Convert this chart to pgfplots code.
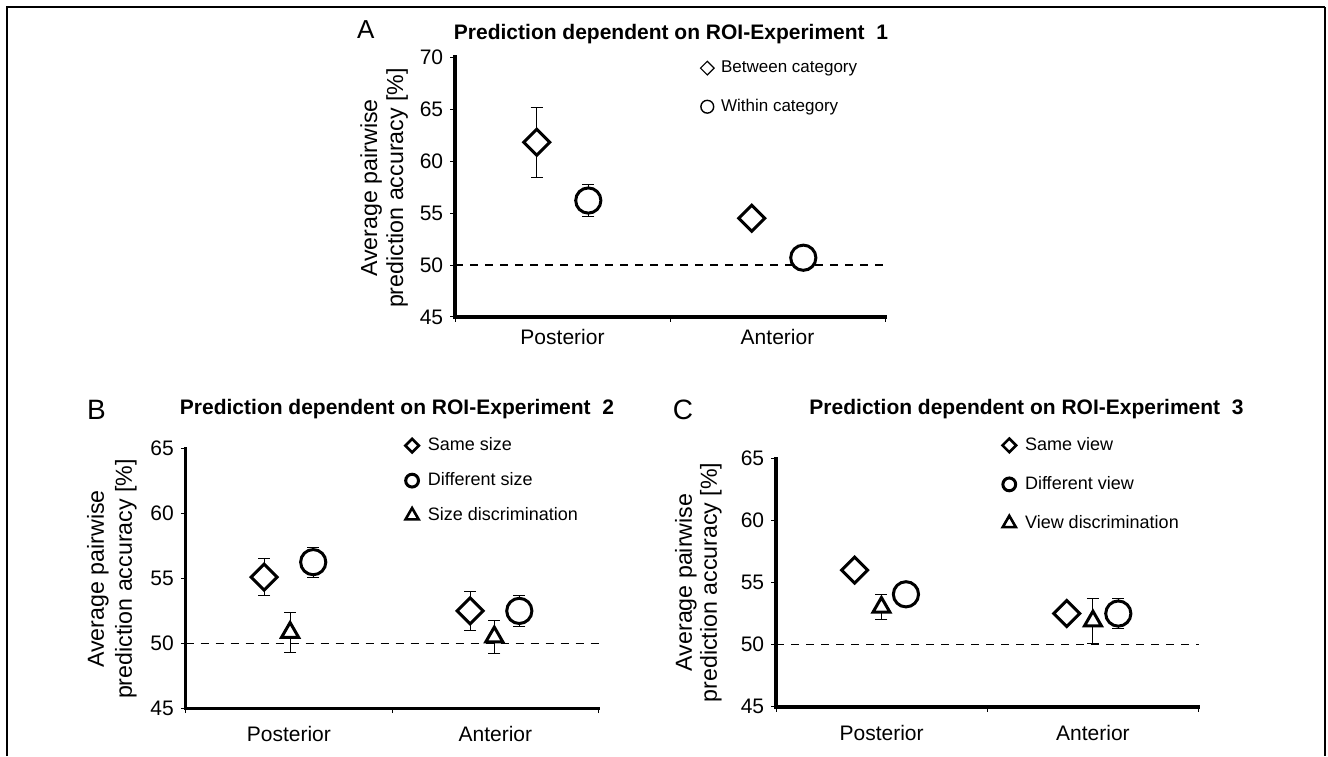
\documentclass[border=0pt]{standalone}
\usepackage{fontspec}
\setmainfont{Liberation Sans}
\usepackage{pgfplots}
\pgfplotsset{compat=1.18}
\pgfplotsset{
  panel/.style={
    scale only axis, axis lines=left,
    axis line style={-, line width=1.6pt, black},
    xmin=0, xmax=2, ymin=45,
    xtick={0,1,2}, xticklabels={},
    tick align=outside, major tick length=2.4pt,
    tick style={line width=0.5pt, black},
    extra x ticks={0.5,1.5}, extra x tick labels={Posterior,Anterior},
    /pgf/number format/assume math mode=true,
    yticklabel style={font=\fontsize{10.5}{12}\selectfont},
    clip=false,
    legend cell align=left,
    /pgfplots/error bars/y dir=both,
    /pgfplots/error bars/y explicit,
    /pgfplots/error bars/error bar style={line width=0.5pt, black, solid},
    /pgfplots/error bars/error mark options={rotate=90, mark size=3pt, line width=0.5pt, black, solid},
  },
  dia/.style={only marks, black, line width=1.5pt, mark=square*, mark size=4.6pt,
    mark options={rotate=45, fill=white, draw=black, solid},
    legend image code/.code={\draw[##1, line width=#1, mark size=2.4pt] plot coordinates {(0pt,0pt)};}},
  circ/.style={only marks, black, line width=1.5pt, mark=*, mark size=6.3pt,
    mark options={fill=white, draw=black, solid},
    legend image code/.code={\draw[##1, line width=#1, mark size=3.2pt] plot coordinates {(0pt,0pt)};}},
  tri/.style={only marks, black, line width=1.5pt, mark=triangle*, mark size=4.9pt,
    mark options={fill=white, draw=black, solid},
    legend image code/.code={\draw[##1, line width=#1, mark size=3.8pt] plot coordinates {(0pt,0pt)};}},
  refline/.style={black, line width=0.7pt, dash pattern=on 4pt off 3.5pt, forget plot, mark=none},
}
\newcommand{\axislines}{%
  \draw[line width=1.8pt, line cap=rect] (rel axis cs:0,1) -- (rel axis cs:0,0) -- (rel axis cs:1,0);}
\begin{document}
\begin{tikzpicture}
\path[use as bounding box] (0pt,0pt) rectangle (664pt,378pt);
\draw[line width=1.1pt] (3.5pt,0pt) -- (3.5pt,374.3pt) -- (662.5pt,374.3pt);
\draw[line width=0.6pt] (662.5pt,374.3pt) -- (662.5pt,0pt);

% ---------------- Panel A ----------------
\begin{axis}[panel,
  at={(227.5pt,219.5pt)}, anchor=south west,
  width=215pt, height=130pt,
  ymax=70, ytick={45,50,...,70},
  extra x tick style={major tick length=0pt,
    tick label style={font=\fontsize{10.5}{12}\selectfont, yshift=-2.5pt}},
  legend style={draw=none, fill=none, at={(0.57,0.883)}, anchor=west,
    inner sep=0pt, row sep=11.2pt, column sep=3.5pt,
    font=\fontsize{8.5}{10}\selectfont,
    nodes={inner sep=0pt, text height=6.3pt, text depth=1.8pt}},
]
\axislines
\addplot[refline] coordinates {(0,50) (2,50)};
\addplot[dia=0.6pt] coordinates {(0.38,61.8) +- (0,3.35) (1.38,54.5) +- (0,0.4)};
\addlegendentry{Between category}
\addplot[circ=0.7pt] coordinates {(0.62,56.2) +- (0,1.5) (1.62,50.7) +- (0,0.4)};
\addlegendentry{Within category}
\end{axis}

% ---------------- Panel B ----------------
\begin{axis}[panel,
  at={(92.8pt,23.8pt)}, anchor=south west,
  width=206.5pt, height=130pt,
  ymax=65, ytick={45,50,...,65},
  extra x tick style={major tick length=0pt,
    tick label style={font=\fontsize{10.5}{12}\selectfont, yshift=-5.3pt}},
  legend style={draw=none, fill=none, at={(0.531,0.876)}, anchor=west,
    inner sep=0pt, row sep=8.9pt, column sep=4.5pt,
    font=\fontsize{9}{11}\selectfont,
    nodes={inner sep=0pt, text height=6.7pt, text depth=1.9pt}},
]
\axislines
\addplot[refline] coordinates {(0,50) (2,50)};
\addplot[dia=1.3pt] coordinates {(0.38,55.1) +- (0,1.45) (1.378,52.5) +- (0,1.5)};
\addlegendentry{Same size}
\addplot[circ=1.5pt] coordinates {(0.618,56.25) +- (0,1.15) (1.616,52.5) +- (0,1.2)};
\addlegendentry{Different size}
\addplot[tri=1.3pt] coordinates {(0.506,50.85) +- (0,1.55) (1.495,50.5) +- (0,1.3)};
\addlegendentry{Size discrimination}
\end{axis}

% ---------------- Panel C ----------------
\begin{axis}[panel,
  at={(388pt,24.65pt)}, anchor=south west,
  width=211.3pt, height=124.2pt,
  ymax=65, ytick={45,50,...,65},
  extra x tick style={major tick length=0pt,
    tick label style={font=\fontsize{10.5}{12}\selectfont, yshift=-5.6pt}},
  legend style={draw=none, fill=none, at={(0.535,0.895)}, anchor=west,
    inner sep=0pt, row sep=10.9pt, column sep=4.5pt,
    font=\fontsize{9}{11}\selectfont,
    nodes={inner sep=0pt, text height=6.7pt, text depth=1.9pt}},
]
\axislines
\addplot[refline] coordinates {(0,50) (2,50)};
\addplot[dia=1.3pt] coordinates {(0.372,56.0) +- (0,0.3) (1.376,52.5) +- (0,0.3)};
\addlegendentry{Same view}
\addplot[circ=1.5pt] coordinates {(0.615,54.05) +- (0,0.3) (1.62,52.5) +- (0,1.2)};
\addlegendentry{Different view}
\addplot[tri=1.3pt] coordinates {(0.499,53.0) +- (0,1.0) (1.5,51.9) +- (0,1.8)};
\addlegendentry{View discrimination}
\end{axis}

% ---------------- titles, letters, y labels ----------------
\node[anchor=base, font=\bfseries\fontsize{10.5}{12}\selectfont] at (335.5pt,358.3pt) {Prediction dependent on ROI-Experiment\ \ 1};
\node[anchor=base, font=\bfseries\fontsize{10.5}{12}\selectfont] at (198.5pt,170.5pt) {Prediction dependent on ROI-Experiment\ \ 2};
\node[anchor=base, font=\bfseries\fontsize{10.5}{12}\selectfont] at (513.25pt,170.5pt) {Prediction dependent on ROI-Experiment\ \ 3};

\node[anchor=base west, inner sep=0pt, font=\fontsize{13}{15}\selectfont] at (178.3pt,358.5pt) {A};
\node[anchor=base west, inner sep=0pt, font=\fontsize{14}{16}\selectfont] at (43.4pt,168pt) {B};
\node[anchor=base west, inner sep=0pt, font=\fontsize{14}{16}\selectfont] at (336.2pt,168pt) {C};

\node[rotate=90, align=center, inner sep=0pt, font=\fontsize{11.6}{13}\selectfont] at (192pt,284pt) {Average pairwise\\prediction accuracy [\%]};
\node[rotate=90, align=center, inner sep=0pt, font=\fontsize{11.6}{14}\selectfont] at (55.9pt,88.5pt) {Average pairwise\\prediction accuracy [\%]};
\node[rotate=90, align=center, inner sep=0pt, font=\fontsize{11.6}{12.5}\selectfont] at (349.2pt,86.75pt) {Average pairwise\\prediction accuracy [\%]};
\end{tikzpicture}
\end{document}
